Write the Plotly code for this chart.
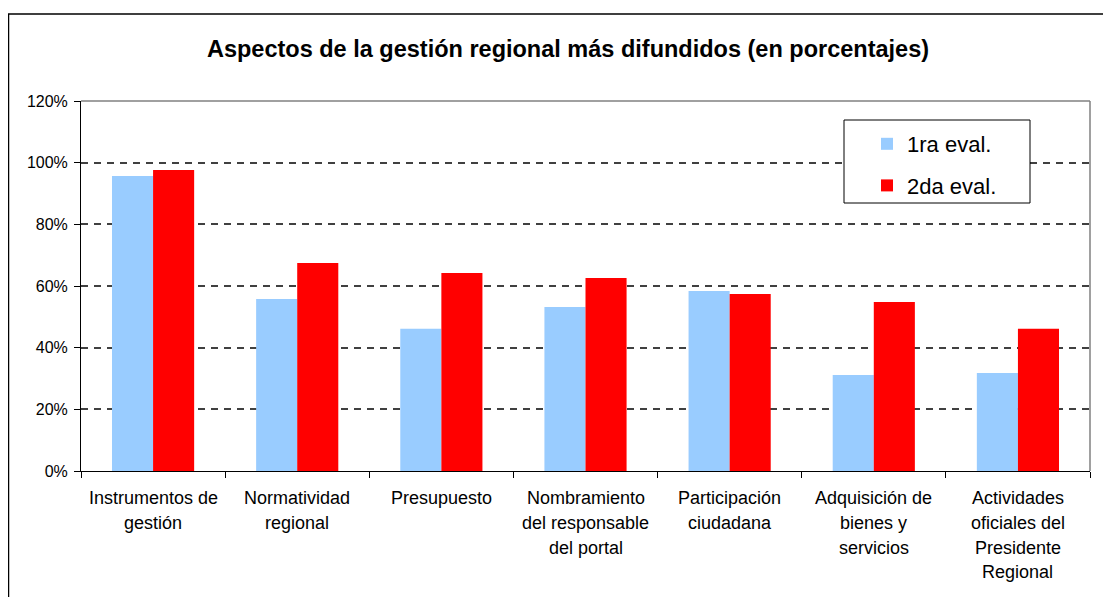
import plotly.graph_objects as go

categories = ["Instrumentos de gestión", "Normatividad regional", "Presupuesto",
              "Nombramiento del responsable del portal", "Participación ciudadana",
              "Adquisición de bienes y servicios", "Actividades oficiales del Presidente Regional"]
label_lines = [["Instrumentos de", "gestión"], ["Normatividad", "regional"], ["Presupuesto"],
               ["Nombramiento", "del responsable", "del portal"], ["Participación", "ciudadana"],
               ["Adquisición de", "bienes y", "servicios"],
               ["Actividades", "oficiales del", "Presidente", "Regional"]]
eval1 = [95.7, 55.8, 46.1, 53.2, 58.4, 31.1, 31.8]
eval2 = [97.6, 67.5, 64.2, 62.6, 57.4, 54.8, 46.1]
series_names = ["1ra eval.", "2da eval."]
y_ticks = [0, 20, 40, 60, 80, 100, 120]
y_ticklabels = [f"{v}%" for v in y_ticks]

FONT = "Liberation Sans, Arial, sans-serif"

# page body has an 8px margin: figure coordinates = reference pixel - 8
W, H = 1103, 589
L, T = 73, 93
PW, PH = 1009, 370
R = W - L - PW
B = H - T - PH


def px_x(x):
    return (x - 8 - L) / PW


def px_y(y):
    return (T + PH - (y - 8)) / PH


fig = go.Figure()
fig.add_trace(go.Bar(x=categories, y=eval1, name=series_names[0], marker_color="#99CCFF",
                     marker_line_width=0, legendgroup="a"))
fig.add_trace(go.Bar(x=categories, y=eval2, name=series_names[1], marker_color="#FF0000",
                     marker_line_width=0, legendgroup="b"))

annotations = []
for cat, lines in zip(categories, label_lines):
    for i, line in enumerate(lines):
        annotations.append(dict(x=cat, xref="x", y=px_y(498 + i * 24.8), yref="paper",
                                yanchor="middle", text=line, showarrow=False,
                                font=dict(family=FONT, size=18, color="black")))

fig.update_layout(
    width=W, height=H,
    margin=dict(l=L, r=R, t=T, b=B),
    paper_bgcolor="white", plot_bgcolor="white",
    barmode="group", bargap=0.43, bargroupgap=0,
    title=dict(text="<b>Aspectos de la gestión regional más difundidos (en porcentajes)</b>",
               x=(568 - 8) / W, xanchor="center", y=1 - (49 - 8) / H, yanchor="middle",
               font=dict(family=FONT, size=23.5, color="black")),
    font=dict(family=FONT, size=16, color="black"),
    xaxis=dict(showticklabels=False, ticks="outside", tickson="boundaries", ticklen=6,
               tickcolor="black", showline=True, linecolor="black", linewidth=1,
               showgrid=False),
    yaxis=dict(range=[0, 120], tickvals=y_ticks, ticktext=y_ticklabels, ticks="outside",
               ticklen=6, tickcolor="black", showline=True, linecolor="black", linewidth=1,
               showgrid=True, gridcolor="#404040", gridwidth=1.5, griddash="7px,6px",
               tickfont=dict(family=FONT, size=16, color="black"), zeroline=False,
               ticklabelstandoff=3),
    legend=dict(x=px_x(867), y=px_y(123), xanchor="left", yanchor="top",
                borderwidth=0, bgcolor="rgba(0,0,0,0)",
                font=dict(family=FONT, size=22, color="black"),
                tracegroupgap=10, itemwidth=30),
    annotations=annotations,
    shapes=[
        dict(type="line", xref="paper", yref="paper", x0=0, x1=1, y0=1, y1=1,
             line=dict(color="#808080", width=1.5)),
        dict(type="line", xref="paper", yref="paper", x0=1, x1=1, y0=0, y1=1,
             line=dict(color="#808080", width=1.5)),
        dict(type="rect", xref="paper", yref="paper", x0=px_x(844), x1=px_x(1030),
             y0=px_y(203), y1=px_y(120), fillcolor="white",
             line=dict(color="black", width=1), layer="above"),
        dict(type="rect", xref="paper", yref="paper", x0=px_x(8.5), x1=px_x(1120),
             y0=px_y(620), y1=px_y(14),
             line=dict(color="black", width=1.5), layer="below"),
    ],
)

fig.write_html("out.html")
